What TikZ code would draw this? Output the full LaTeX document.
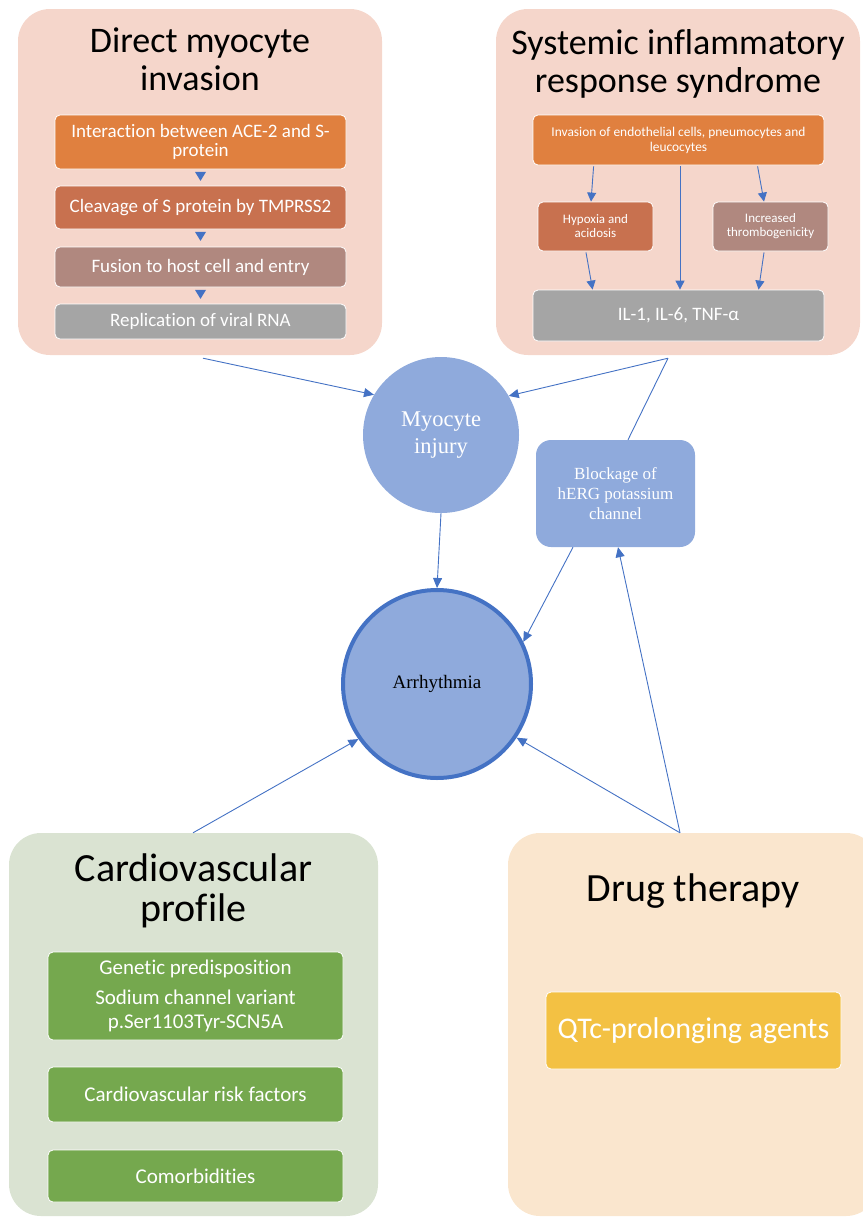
\documentclass[tikz,border=0pt]{standalone}
\usepackage{fontspec}
\setmainfont{Carlito}[Ligatures=NoCommon]
\newfontfamily\serifx{Liberation Serif}
\usetikzlibrary{arrows.meta,calc}
\definecolor{pinkbg}{HTML}{F5D6CB}
\definecolor{greenbg}{HTML}{DAE3D2}
\definecolor{drugbg}{HTML}{FAE6CE}
\definecolor{corange}{HTML}{E0803F}
\definecolor{cbrown}{HTML}{C8714F}
\definecolor{cmauve}{HTML}{B0887F}
\definecolor{cgray}{HTML}{A5A5A5}
\definecolor{cgreen}{HTML}{75A84E}
\definecolor{cgold}{HTML}{F3C143}
\definecolor{cblue}{HTML}{4472C4}
\definecolor{cfill}{HTML}{8FAADC}
\begin{document}
\begin{tikzpicture}[x=1pt,y=-1pt,
  panel/.style={rounded corners=32pt, inner sep=0pt},
  title/.style={align=center, text=black, inner sep=0pt},
  inner/.style={rounded corners=5pt, draw=white, line width=0.8pt, text=white, align=center, inner sep=2pt},
  conn/.style={draw=cblue, line width=0.9pt, -{Triangle[length=10pt,width=9pt]}},
  sconn/.style={draw=cblue, line width=0.9pt, -{Triangle[length=9pt,width=9pt]}},
  plain/.style={draw=cblue, line width=0.9pt},
  bubble/.style={circle, fill=cfill, inner sep=0pt, align=center}
]
\useasboundingbox (0,0) rectangle (862,1218);

% panels
\node[panel, fill=pinkbg, minimum width=364pt, minimum height=346pt] (pL) at (200,182) {};
\node[panel, fill=pinkbg, minimum width=364pt, minimum height=346pt] (pR) at (678,182) {};
\node[panel, fill=greenbg, minimum width=369pt, minimum height=383pt] (pG) at (193.5,1024.5) {};
\node[panel, fill=drugbg, minimum width=370pt, minimum height=383pt] (pD) at (693,1024.5) {};

% titles
\node[title, font=\fontsize{36}{38}\selectfont] (tL) at (200,59.5) {Direct myocyte\\invasion};
\node[title, font=\fontsize{36}{38}\selectfont] (tR) at (678,63.5) {Systemic inflammatory\\response syndrome};
\node[title, font=\fontsize{40}{40}\selectfont] (tG) at (193.5,891) {Cardiovascular\\profile};
\node[title, font=\fontsize{40}{40}\selectfont] (tD) at (693,891) {Drug therapy};

% left panel steps
\node[inner, fill=corange, minimum width=291pt, minimum height=54pt, font=\fontsize{19}{19}\selectfont] (B1) at (200.5,142) {Interaction between ACE-2 and S-\\protein};
\node[inner, fill=cbrown, minimum width=291pt, minimum height=43pt, font=\fontsize{19}{20}\selectfont] (B2) at (200.5,207.5) {Cleavage of S protein by TMPRSS2};
\node[inner, fill=cmauve, minimum width=291pt, minimum height=40pt, font=\fontsize{19}{20}\selectfont] (B3) at (200.5,267) {Fusion to host cell and entry};
\node[inner, fill=cgray, minimum width=291pt, minimum height=35pt, font=\fontsize{19}{20}\selectfont] (B4) at (200.5,321.5) {Replication of viral RNA};
\foreach \a in {B1,B2,B3}{
  \fill[cblue] ($(\a.south)+(-5.5,2.5)$) -- ($(\a.south)+(5.5,2.5)$) -- ($(\a.south)+(0,11.5)$) -- cycle;
}

% right panel
\node[inner, fill=corange, minimum width=291pt, minimum height=50pt, font=\fontsize{13.4}{15}\selectfont] (R1) at (678.5,140) {Invasion of endothelial cells, pneumocytes and\\leucocytes};
\node[inner, fill=cbrown, minimum width=115pt, minimum height=49pt, font=\fontsize{13}{14}\selectfont] (R2) at (595.5,226.5) {Hypoxia and\\acidosis};
\node[inner, fill=cmauve, minimum width=115pt, minimum height=49pt, font=\fontsize{13}{14}\selectfont] (R3) at (770.5,226.5) {Increased\\thrombogenicity};
\node[inner, fill=cgray, minimum width=291pt, minimum height=51pt, font=\fontsize{19}{20}\selectfont] (R4) at (678.5,315.5) {IL-1, IL-6, TNF-α};
\draw[sconn] ($(R1.south west)+(61,1)$) -- ($(R2.north)+(-4.5,0)$);
\draw[sconn] ($(R1.south)+(1.5,1)$) -- ($(R4.north)+(1.5,0)$);
\draw[sconn] ($(R1.south west)+(225,1)$) -- ($(R3.north)+(-6.5,0)$);
\draw[sconn] ($(R2.south)+(-9.5,1)$) -- ($(R4.north west)+(60,0)$);
\draw[sconn] ($(R3.south)+(-6.5,1)$) -- ($(R4.north west)+(226,0)$);

% green panel
\node[inner, fill=cgreen, minimum width=295pt, minimum height=88pt, font=\fontsize{21}{24}\selectfont] (G1) at (195.5,996) {Genetic predisposition\\[6pt]Sodium channel variant\\p.Ser1103Tyr-SCN5A};
\node[inner, fill=cgreen, minimum width=295pt, minimum height=55pt, font=\fontsize{21}{22}\selectfont] (G2) at (195.5,1094.5) {Cardiovascular risk factors};
\node[inner, fill=cgreen, minimum width=295pt, minimum height=52pt, font=\fontsize{21}{22}\selectfont] (G3) at (195.5,1176) {Comorbidities};

% drug panel
\node[inner, fill=cgold, minimum width=295pt, minimum height=77pt, font=\fontsize{30}{32}\selectfont] (Q) at (693.5,1030.5) {QTc-prolonging agents};

% central nodes
\node[bubble, minimum size=156pt, text=white, font=\serifx\fontsize{22.5}{27}\selectfont] (myo) at (441,435) {Myocyte\\injury};
\node[bubble, minimum size=188pt, draw=cblue, line width=4pt, text=black, font=\serifx\fontsize{19}{21}\selectfont] (arr) at (437,684) {Arrhythmia};
\node[fill=cfill, rounded corners=15pt, minimum width=159pt, minimum height=107pt, inner sep=0pt, text=white, align=center, font=\serifx\fontsize{17}{20}\selectfont] (blk) at (615.5,493.5) {Blockage of\\hERG potassium\\channel};

% connector anchor points
\coordinate (lout) at ($(pL.south)+(3,3)$);
\coordinate (rout) at ($(pR.south)+(-10,3)$);
\coordinate (gout) at ($(pG.north)+(-0.5,0)$);
\coordinate (dout) at ($(pD.north)+(-13,0)$);

\draw[conn] (lout) -- (myo.149);
\draw[conn] (rout) -- (myo.30);
\draw[plain] (rout) -- ($(blk.north)+(12.5,0)$);
\draw[conn] (myo.south) -- (arr.north);
\draw[conn] ($(blk.south)+(-42.5,0)$) -- (arr.26);
\draw[conn] (gout) -- (arr.215);
\draw[conn] (dout) -- (arr.326);
\draw[conn] (dout) -- ($(blk.south)+(2.5,0)$);
\end{tikzpicture}
\end{document}
